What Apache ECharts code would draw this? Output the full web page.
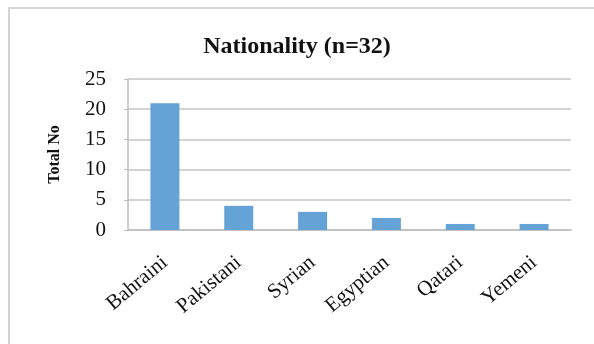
<!DOCTYPE html>
<html>
<head>
<meta charset="utf-8">
<script src="https://cdn.jsdelivr.net/npm/echarts@6/dist/echarts.min.js"></script>
<style>
  html, body { margin: 0; padding: 0; background: #ffffff; }
  #chart { width: 594px; height: 344px; }
</style>
</head>
<body>
<div id="chart"></div>
<script>
// Nationality breakdown of respondents
const nationalities = ['Bahraini', 'Pakistani', 'Syrian', 'Egyptian', 'Qatari', 'Yemeni'];
const totals = [21, 4, 3, 2, 1, 1];
const titleText = 'Nationality (n=32)';
const yAxisName = 'Total No';

const serif = '"Liberation Serif", "DejaVu Serif", serif';

const chart = echarts.init(document.getElementById('chart'), null, { renderer: 'canvas' });
chart.setOption({
  animation: false,
  backgroundColor: '#ffffff',
  graphic: [{
    type: 'rect',
    shape: { x: 9, y: 8, width: 640, height: 400 },
    style: { fill: 'none', stroke: '#d4d4d4', lineWidth: 2 },
    silent: true
  }],
  title: {
    text: titleText,
    left: 'center',
    top: 30,
    textStyle: { fontFamily: serif, fontWeight: 'bold', fontSize: 24, color: '#111' }
  },
  grid: { left: 128, right: 23, top: 79, bottom: 114 },
  xAxis: {
    type: 'category',
    data: nationalities,
    axisLine: { show: true, lineStyle: { color: '#bdbdbd', width: 1.5 } },
    axisTick: { show: false },
    axisLabel: {
      rotate: 40,
      margin: 30,
      fontFamily: serif,
      fontSize: 21,
      color: '#111',
      interval: 0
    }
  },
  yAxis: {
    type: 'value',
    min: 0,
    max: 25,
    interval: 5,
    name: yAxisName,
    nameLocation: 'middle',
    nameGap: 65,
    nameTextStyle: { fontFamily: serif, fontWeight: 'bold', fontSize: 16, color: '#111' },
    axisLine: { show: true, lineStyle: { color: '#bdbdbd', width: 1.5 } },
    axisTick: { show: true, length: 4, lineStyle: { color: '#bdbdbd' } },
    splitLine: { lineStyle: { color: '#c4c4c4', width: 1.5 } },
    axisLabel: { fontFamily: serif, fontSize: 21, color: '#111', margin: 22, padding: [6, 0, 0, 0] }
  },
  series: [{
    type: 'bar',
    data: totals,
    barWidth: 29,
    itemStyle: { color: '#65a2d6' }
  }]
});
</script>
</body>
</html>
